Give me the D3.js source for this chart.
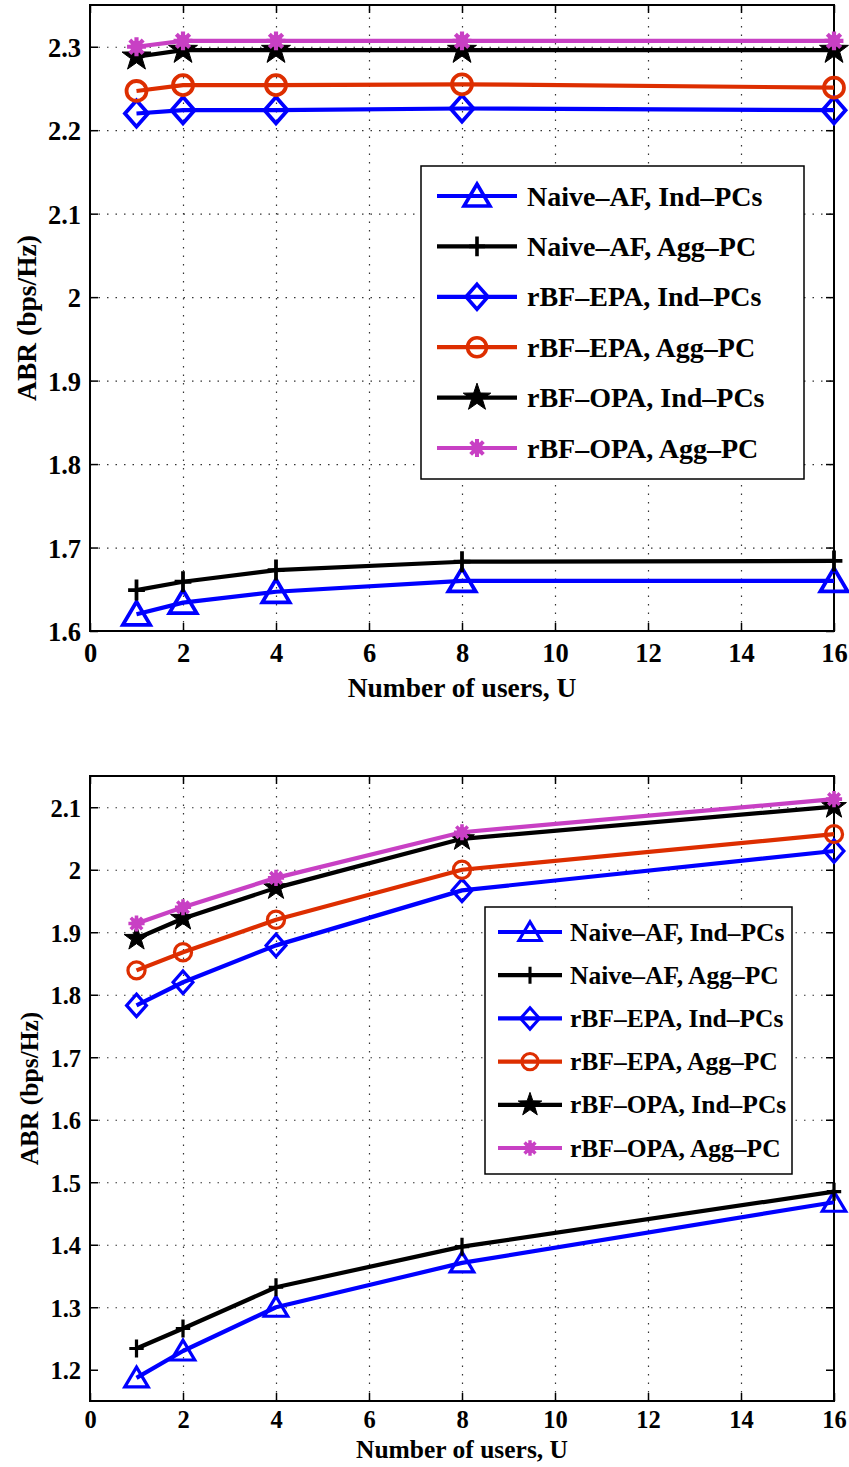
<!DOCTYPE html>
<html>
<head>
<meta charset="utf-8">
<script src="https://cdn.jsdelivr.net/npm/d3@7"></script>
<style>
  body { margin: 0; background: white; }
  svg text { font-family: "Liberation Serif", "Times New Roman", Times, serif !important; font-weight: bold; }
</style>
</head>
<body>
<div id="container"></div>
<script>
let w = 849;
let h = 1467;

// ---- data ----
let users = [1, 2, 4, 8, 16];
let seriesNames = [
  "Naive\u2013AF, Ind\u2013PCs",
  "Naive\u2013AF, Agg\u2013PC",
  "rBF\u2013EPA, Ind\u2013PCs",
  "rBF\u2013EPA, Agg\u2013PC",
  "rBF\u2013OPA, Ind\u2013PCs",
  "rBF\u2013OPA, Agg\u2013PC"
];
let xTicks = [0, 2, 4, 6, 8, 10, 12, 14, 16];

// top panel
let topNaiveInd = [1.620, 1.634, 1.647, 1.660, 1.660];
let topNaiveAgg = [1.649, 1.659, 1.673, 1.683, 1.684];
let topEpaInd   = [2.220, 2.224, 2.224, 2.226, 2.224];
let topEpaAgg   = [2.247, 2.254, 2.254, 2.255, 2.251];
let topOpaInd   = [2.288, 2.296, 2.296, 2.296, 2.296];
let topOpaAgg   = [2.300, 2.307, 2.307, 2.307, 2.307];
let topYTicks = [1.6, 1.7, 1.8, 1.9, 2, 2.1, 2.2, 2.3];

// bottom panel
let botNaiveInd = [1.187, 1.230, 1.300, 1.371, 1.468];
let botNaiveAgg = [1.234, 1.266, 1.332, 1.397, 1.485];
let botEpaInd   = [1.783, 1.820, 1.879, 1.967, 2.030];
let botEpaAgg   = [1.839, 1.868, 1.920, 2.000, 2.057];
let botOpaInd   = [1.890, 1.922, 1.971, 2.0495, 2.101];
let botOpaAgg   = [1.914, 1.940, 1.987, 2.060, 2.113];
let botYTicks = [1.2, 1.3, 1.4, 1.5, 1.6, 1.7, 1.8, 1.9, 2, 2.1];

// ---- styles ----
let blue = "#0000FF";
let black = "#000000";
let red = "#DD2E00";
let magenta = "#C840C4";
let serif = "'Liberation Serif', 'Times New Roman', Times, serif";
let seriesStyle = [
  { color: blue, marker: "triangle" },
  { color: black, marker: "plus" },
  { color: blue, marker: "diamond" },
  { color: red, marker: "circle" },
  { color: black, marker: "star" },
  { color: magenta, marker: "asterisk" }
];

let viz = d3.select("#container")
  .append("svg")
    .attr("width", w)
    .attr("height", h)
    .style("background-color", "white")
    .style("font-family", serif)
;

function drawMarker(g, type, color, s){
  if (type == "triangle"){
    g.append("path")
      .attr("d", "M0," + (-12*s) + " L" + (13*s) + "," + (10*s) + " L" + (-13*s) + "," + (10*s) + " Z")
      .style("fill", "none").style("stroke", color).style("stroke-width", 3.6*s);
  } else if (type == "diamond"){
    g.append("path")
      .attr("d", "M0," + (-12.5*s) + " L" + (11*s) + ",0 L0," + (12.5*s) + " L" + (-11*s) + ",0 Z")
      .style("fill", "none").style("stroke", color).style("stroke-width", 3.6*s);
  } else if (type == "circle"){
    g.append("circle")
      .attr("r", 9.5*s)
      .style("fill", "none").style("stroke", color).style("stroke-width", 3.6*s);
  } else if (type == "plus"){
    g.append("path")
      .attr("d", "M" + (-8*s) + ",0 L" + (8*s) + ",0 M0," + (-10*s) + " L0," + (10*s))
      .style("stroke", color).style("stroke-width", 3.6*s);
  } else if (type == "star"){
    let pts = [];
    for (let k = 0; k < 10; k++){
      let r = (k % 2 == 0 ? 14.5 : 5.7) * s;
      let a = -Math.PI/2 + k*Math.PI/5;
      pts.push([Math.cos(a)*r, Math.sin(a)*r]);
    }
    g.append("path")
      .attr("d", "M" + pts.map(p => p.join(",")).join(" L") + " Z")
      .style("fill", color).style("stroke", color).style("stroke-width", 1);
  } else if (type == "asterisk"){
    let d = "";
    for (let k = 0; k < 4; k++){
      let a = k*Math.PI/4;
      let r = 9*s;
      d += "M" + (-Math.cos(a)*r) + "," + (-Math.sin(a)*r) + " L" + (Math.cos(a)*r) + "," + (Math.sin(a)*r) + " ";
    }
    g.append("path")
      .attr("d", d)
      .style("stroke", color).style("stroke-width", 4*s);
    g.append("circle").attr("r", 6*s).style("fill", color);
  }
}

function drawPanel(p){
  let x = d3.scaleLinear().domain([0, 16]).range([p.left, p.right]);
  let y = d3.scaleLinear().domain(p.yDomain).range([p.bottom, p.top]);
  let pw = p.right - p.left;
  let ph = p.bottom - p.top;
  let panel = viz.append("g").attr("class", "panel");

  // dotted grid
  panel.append("g")
    .attr("transform", "translate(0," + p.bottom + ")")
    .call(d3.axisBottom(x).tickValues(xTicks.slice(1, -1)).tickSize(-ph).tickFormat(""));
  panel.append("g")
    .attr("transform", "translate(" + p.left + ",0)")
    .call(d3.axisLeft(y).tickValues(p.yTicks.slice(1)).tickSize(-pw).tickFormat(""));
  panel.selectAll(".domain").remove();
  panel.selectAll(".tick line")
    .style("stroke", "#333")
    .style("stroke-width", 1.2)
    .style("stroke-dasharray", "1.5,7");

  // axes with inward ticks
  let fs = p.tickFont;
  let bottomAxis = panel.append("g")
    .attr("transform", "translate(0," + p.bottom + ")")
    .call(d3.axisBottom(x).tickValues(xTicks).tickSize(-8).tickPadding(p.xPad).tickFormat(d => String(d)));
  let topAxis = panel.append("g")
    .attr("transform", "translate(0," + p.top + ")")
    .call(d3.axisTop(x).tickValues(xTicks).tickSize(-8).tickFormat(""));
  let leftAxis = panel.append("g")
    .attr("transform", "translate(" + p.left + ",0)")
    .call(d3.axisLeft(y).tickValues(p.yTicks).tickSize(-8).tickPadding(9).tickFormat(d => String(d)));
  let rightAxis = panel.append("g")
    .attr("transform", "translate(" + p.right + ",0)")
    .call(d3.axisRight(y).tickValues(p.yTicks).tickSize(-8).tickFormat(""));
  [bottomAxis, topAxis, leftAxis, rightAxis].forEach(a => {
    a.attr("font-family", null).style("font-family", serif);
    a.select(".domain").remove();
    a.selectAll(".tick line").style("stroke", "black").style("stroke-width", 1.5);
    a.selectAll("text")
      .attr("font-size", fs)
      .style("font-family", serif)
      .style("font-weight", "bold")
      .attr("fill", "black");
  });
  leftAxis.selectAll("text").attr("dy", "0.36em");

  // axis box
  panel.append("rect")
    .attr("x", p.left)
    .attr("y", p.top)
    .attr("width", pw)
    .attr("height", ph)
    .style("fill", "none")
    .style("stroke", "black")
    .style("stroke-width", 2)
  ;

  // series lines + markers
  let line = d3.line().x((d, i) => x(users[i])).y(d => y(d));
  p.series.forEach((vals, si) => {
    let st = seriesStyle[si];
    panel.append("path")
      .datum(vals)
      .attr("d", line)
      .style("fill", "none")
      .style("stroke", st.color)
      .style("stroke-width", 4.2)
      .style("stroke-linejoin", "round")
    ;
    vals.forEach((v, i) => {
      let g = panel.append("g").attr("transform", "translate(" + x(users[i]) + "," + y(v) + ")");
      drawMarker(g, st.marker, st.color, p.markerScale);
    });
  });

  // axis labels
  panel.append("text")
    .text("Number of users, U")
    .attr("font-size", p.labelFont)
    .attr("text-anchor", "middle")
    .attr("x", (p.left + p.right)/2)
    .attr("y", p.xLabelY)
  ;
  panel.append("text")
    .text("ABR (bps/Hz)")
    .attr("font-size", p.labelFont)
    .attr("text-anchor", "middle")
    .attr("transform", "translate(" + p.yLabelX + "," + ((p.top + p.bottom)/2) + ") rotate(-90)")
  ;

  // legend
  let L = p.legend;
  panel.append("rect")
    .attr("x", L.x)
    .attr("y", L.y)
    .attr("width", L.w)
    .attr("height", L.h)
    .style("fill", "white")
    .style("stroke", "black")
    .style("stroke-width", 1.5)
  ;
  seriesNames.forEach((name, si) => {
    let st = seriesStyle[si];
    let cy = L.row0 + si*L.step;
    panel.append("line")
      .attr("x1", L.lineX1)
      .attr("x2", L.lineX2)
      .attr("y1", cy)
      .attr("y2", cy)
      .style("stroke", st.color)
      .style("stroke-width", 4.2)
    ;
    let g = panel.append("g").attr("transform", "translate(" + ((L.lineX1 + L.lineX2)/2) + "," + cy + ")");
    drawMarker(g, st.marker, st.color, p.markerScale*0.95);
    panel.append("text")
      .text(name)
      .attr("font-size", L.font)
      .attr("x", L.textX)
      .attr("y", cy + L.font*0.34)
    ;
  });
}

drawPanel({
  left: 90, right: 834, top: 5, bottom: 631,
  yDomain: [1.6, 2.35], yTicks: topYTicks,
  series: [topNaiveInd, topNaiveAgg, topEpaInd, topEpaAgg, topOpaInd, topOpaAgg],
  tickFont: 26.5, labelFont: 27.5, xPad: 12, xLabelY: 697, yLabelX: 36,
  markerScale: 1.05,
  legend: { x: 421, y: 166, w: 383, h: 313, row0: 196, step: 50.4,
            lineX1: 437, lineX2: 517, textX: 527, font: 28 }
});

drawPanel({
  left: 90, right: 834, top: 776, bottom: 1401,
  yDomain: [1.15, 2.15], yTicks: botYTicks,
  series: [botNaiveInd, botNaiveAgg, botEpaInd, botEpaAgg, botOpaInd, botOpaAgg],
  tickFont: 24.5, labelFont: 25.5, xPad: 10, xLabelY: 1458, yLabelX: 38,
  markerScale: 0.9,
  legend: { x: 485, y: 907, w: 307, h: 267, row0: 932, step: 43.2,
            lineX1: 498, lineX2: 562, textX: 570, font: 25.5 }
});
</script>
</body>
</html>
